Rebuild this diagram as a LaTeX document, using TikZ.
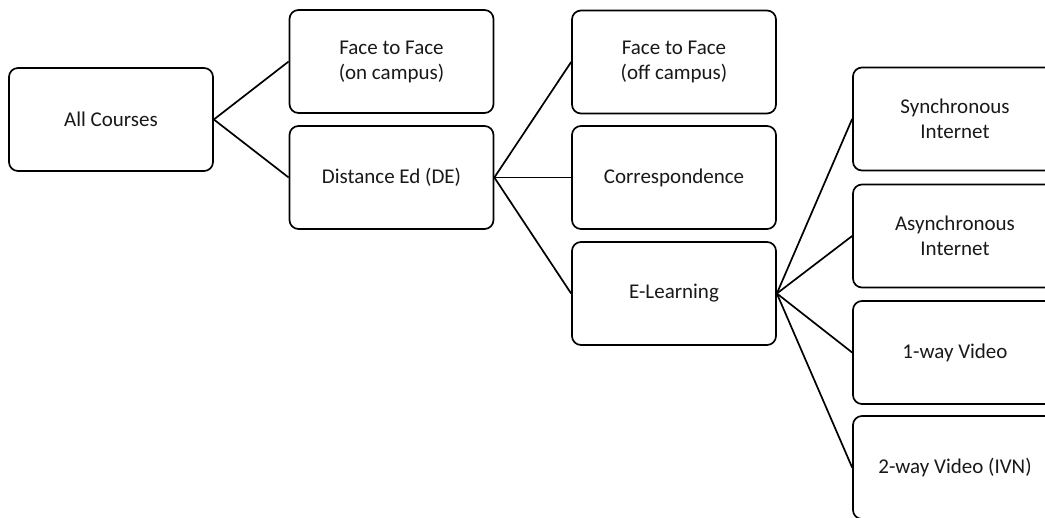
\documentclass[tikz,border=0pt]{standalone}
\usepackage{fontspec}
\setmainfont{Carlito}
\begin{document}
\begin{tikzpicture}[x=1pt,y=-1pt,
  box/.style={draw=black, line width=1.7pt, rounded corners=9pt, fill=white,
    minimum width=204pt, minimum height=103pt, inner sep=0pt, align=center,
    font=\fontsize{21pt}{25pt}\selectfont, text=black!90},
  link/.style={draw=black, line width=1.7pt}]
\useasboundingbox (0,0) rectangle (1045,518);
\node[box] (all) at (111,119.5) {All Courses};
\node[box] (ftfon) at (391.5,61.5) {Face to Face\\(on campus)};
\node[box] (de) at (391.5,177.5) {Distance Ed (DE)};
\node[box] (ftfoff) at (674,62) {Face to Face\\(off campus)};
\node[box] (corr) at (674,177.5) {Correspondence};
\node[box] (elearn) at (674,293.5) {E-Learning};
\node[box] (sync) at (955,119) {Synchronous\\Internet};
\node[box] (async) at (955,236) {Asynchronous\\Internet};
\node[box] (oneway) at (955,352.5) {1-way Video};
\node[box] (twoway) at (955,467.5) {2-way Video (IVN)};
\draw[link] (all.east) -- (ftfon.west);
\draw[link] (all.east) -- (de.west);
\draw[link] (de.east) -- (ftfoff.west);
\draw[link] (de.east) -- (corr.west);
\draw[link] (de.east) -- (elearn.west);
\draw[link] (elearn.east) -- (sync.west);
\draw[link] (elearn.east) -- (async.west);
\draw[link] (elearn.east) -- (oneway.west);
\draw[link] (elearn.east) -- (twoway.west);
\end{tikzpicture}
\end{document}
